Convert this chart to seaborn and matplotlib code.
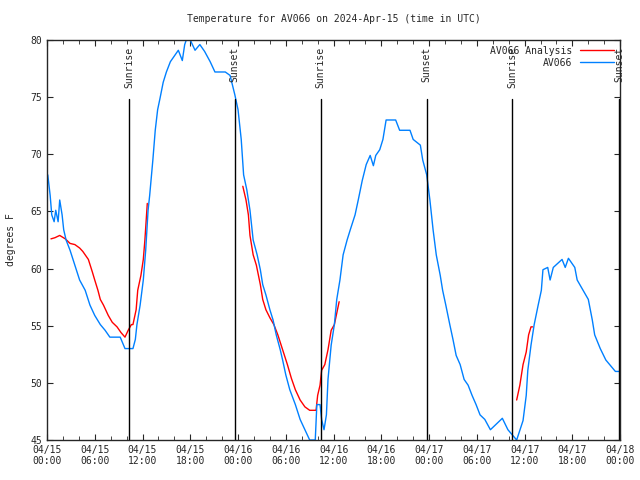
import numpy as np
import pandas as pd
import seaborn as sb
import matplotlib.pyplot as plt
import matplotlib.dates as mdates

START = pd.Timestamp("2024-04-15 00:00")

# observed station temperature (hours since start, deg F), 10 per row
obs_hours = [
    0.1, 0.4, 0.6, 0.9, 1.1, 1.4, 1.6, 1.9, 2.1, 2.4,
    2.9, 3.5, 4.1, 4.8, 5.4, 6.0, 6.7, 7.3, 7.9, 9.2,
    9.8, 10.8, 11.1, 11.3, 11.7, 12.1, 12.4, 12.7, 12.9, 13.3,
    13.6, 13.9, 14.2, 14.6, 15.0, 15.5, 16.1, 16.5, 17.0, 17.3,
    17.6, 18.0, 18.6, 19.2, 19.8, 20.5, 21.1, 22.4, 23.0, 23.6,
    24.0, 24.4, 24.7, 25.1, 25.5, 25.9, 26.4, 26.8, 27.1, 27.5,
    28.0, 28.4, 28.8, 29.3, 29.6, 30.0, 30.5, 31.2, 31.8, 32.4,
    33.0, 33.7, 33.9, 34.3, 34.5, 34.8, 35.1, 35.3, 35.7, 36.1,
    36.4, 36.8, 37.2, 37.7, 38.1, 38.7, 39.1, 39.6, 40.1, 40.6,
    41.0, 41.3, 41.8, 42.2, 42.6, 43.8, 44.3, 45.6, 46.0, 46.9,
    47.2, 47.7, 48.1, 48.5, 48.9, 49.4, 49.7, 50.1, 50.6, 51.0,
    51.4, 51.9, 52.4, 52.9, 53.4, 53.9, 54.4, 55.0, 55.7, 57.2,
    57.9, 59.0, 59.8, 60.2, 60.4, 60.8, 61.2, 61.7, 62.1, 62.3,
    62.9, 63.2, 63.6, 64.7, 65.1, 65.5, 66.3, 66.6, 68.0, 68.5,
    68.8, 69.5, 70.2, 71.4, 72.0,
]
obs_temp = [
    68.2, 66.4, 64.7, 64.1, 65.1, 64.1, 66.0, 64.7, 63.4, 62.5,
    61.6, 60.3, 59.0, 58.1, 56.8, 55.9, 55.1, 54.6, 54.0, 54.0,
    53.0, 53.0, 53.8, 55.1, 56.8, 59.0, 61.6, 65.1, 66.4, 69.5,
    72.1, 73.9, 74.9, 76.3, 77.2, 78.1, 78.7, 79.1, 78.2, 79.6,
    80.2, 80.0, 79.1, 79.6, 79.0, 78.1, 77.2, 77.2, 76.9, 75.2,
    73.9, 71.3, 68.2, 66.9, 65.1, 62.5, 61.2, 59.9, 58.6, 57.7,
    56.4, 55.5, 54.2, 52.9, 52.0, 50.7, 49.4, 48.1, 46.8, 45.9,
    45.0, 45.0, 48.1, 48.1, 46.8, 45.9, 47.2, 50.3, 53.3, 55.1,
    57.3, 59.0, 61.2, 62.5, 63.4, 64.7, 66.0, 67.7, 69.1, 69.9,
    69.0, 69.9, 70.4, 71.3, 73.0, 73.0, 72.1, 72.1, 71.3, 70.8,
    69.5, 68.2, 66.0, 63.4, 61.2, 59.4, 58.1, 56.8, 55.1, 53.8,
    52.4, 51.6, 50.3, 49.8, 48.9, 48.1, 47.2, 46.8, 45.9, 46.9,
    45.9, 45.0, 46.7, 48.9, 51.1, 53.3, 55.1, 56.8, 58.1, 59.9,
    60.1, 59.0, 60.1, 60.8, 60.1, 60.9, 60.1, 59.0, 57.3, 55.5,
    54.2, 53.0, 52.0, 51.0, 51.0,
]

# analysis temperature, three separate runs
ana_hours = [
    [0.5, 1.0, 1.6, 2.3, 2.9, 3.5, 4.1, 4.5, 5.2, 5.7,
     6.0, 6.4, 6.7, 7.1, 7.7, 8.2, 8.8, 9.3, 9.8, 10.2,
     10.6, 10.8, 11.2, 11.4, 11.8, 12.1, 12.3, 12.6],
    [24.6, 25.0, 25.3, 25.5, 25.9, 26.3, 26.8, 27.1, 27.5, 28.0,
     28.5, 29.0, 29.6, 30.2, 30.7, 31.2, 31.8, 32.4, 33.0, 33.8,
     34.0, 34.3, 34.5, 34.9, 35.3, 35.7, 36.1, 36.4, 36.7],
    [59.0, 59.4, 59.8, 60.2, 60.5, 60.8, 61.0],
]
ana_temp = [
    [62.6, 62.7, 62.9, 62.6, 62.2, 62.1, 61.8, 61.5, 60.8, 59.7,
     59.0, 58.1, 57.3, 56.8, 55.9, 55.3, 54.9, 54.4, 54.0, 54.6,
     55.1, 55.1, 56.4, 58.1, 59.4, 60.8, 62.5, 65.7],
    [67.2, 66.0, 64.7, 62.9, 61.2, 60.3, 58.6, 57.3, 56.4, 55.7,
     55.1, 54.2, 52.9, 51.6, 50.4, 49.4, 48.5, 47.9, 47.6, 47.6,
     48.9, 49.8, 51.1, 51.6, 52.9, 54.6, 55.1, 56.1, 57.1],
    [48.5, 49.8, 51.6, 52.7, 54.2, 54.9, 54.9],
]

sun_hours = [10.3, 23.6, 34.4, 47.7, 58.4, 71.9]
sun_labels = ["Sunrise", "Sunset", "Sunrise", "Sunset", "Sunrise", "Sunset"]

RED = "#ff0000"
BLUE = "#0080ff"


def to_time(hours):
    return START + pd.to_timedelta(np.asarray(hours), unit="h")


sb.set_style("ticks")
plt.rcParams["font.family"] = ["DejaVu Sans Mono"]
plt.rcParams["font.size"] = 7

fig = plt.figure(figsize=(6.4, 4.8), dpi=100)
ax = fig.add_axes([0.0734, 0.0833, 0.8956, 0.8334])

ana = pd.concat(
    [pd.DataFrame({"time": to_time(h), "temp": t, "run": i})
     for i, (h, t) in enumerate(zip(ana_hours, ana_temp))]
)
obs = pd.DataFrame({"time": to_time(obs_hours), "temp": obs_temp})

for i, (_, grp) in enumerate(ana.groupby("run")):
    sb.lineplot(data=grp, x="time", y="temp", ax=ax, color=RED, lw=1,
                label="AV066 Analysis" if i == 0 else None, legend=False)
sb.lineplot(data=obs, x="time", y="temp", ax=ax, color=BLUE, lw=1,
            label="AV066", legend=False)

for h, lab in zip(to_time(sun_hours), sun_labels):
    ax.plot([h, h], [45, 74.8], color="black", lw=1)
    ax.text(h, 79.4, lab, rotation=90, ha="center", va="top", fontsize=7)

ax.set_xlim(START, START + pd.Timedelta(hours=72))
ax.set_ylim(45, 80)
ax.set_yticks(range(45, 81, 5))
ax.xaxis.set_major_locator(mdates.HourLocator(byhour=range(0, 24, 6)))
ax.xaxis.set_minor_locator(mdates.HourLocator(byhour=range(0, 24, 2)))
ax.xaxis.set_major_formatter(mdates.DateFormatter("%m/%d\n%H:%M"))
ax.tick_params(which="both", direction="in", top=True, right=True, labelsize=7)
ax.tick_params(which="major", length=4)
ax.tick_params(which="minor", length=3)
for s in ax.spines.values():
    s.set_linewidth(1)

ax.set_xlabel("")
ax.set_ylabel("degrees F", fontsize=7, labelpad=10)
ax.set_title("Temperature for AV066 on 2024-Apr-15 (time in UTC)", fontsize=7, pad=13)

leg = ax.legend(loc="upper right", frameon=False, markerfirst=False, fontsize=7,
                handlelength=3.5, borderaxespad=0.2, labelspacing=0.2)
for t in leg.get_texts():
    t.set_ha("right")

fig.savefig("out.png", dpi=100)
